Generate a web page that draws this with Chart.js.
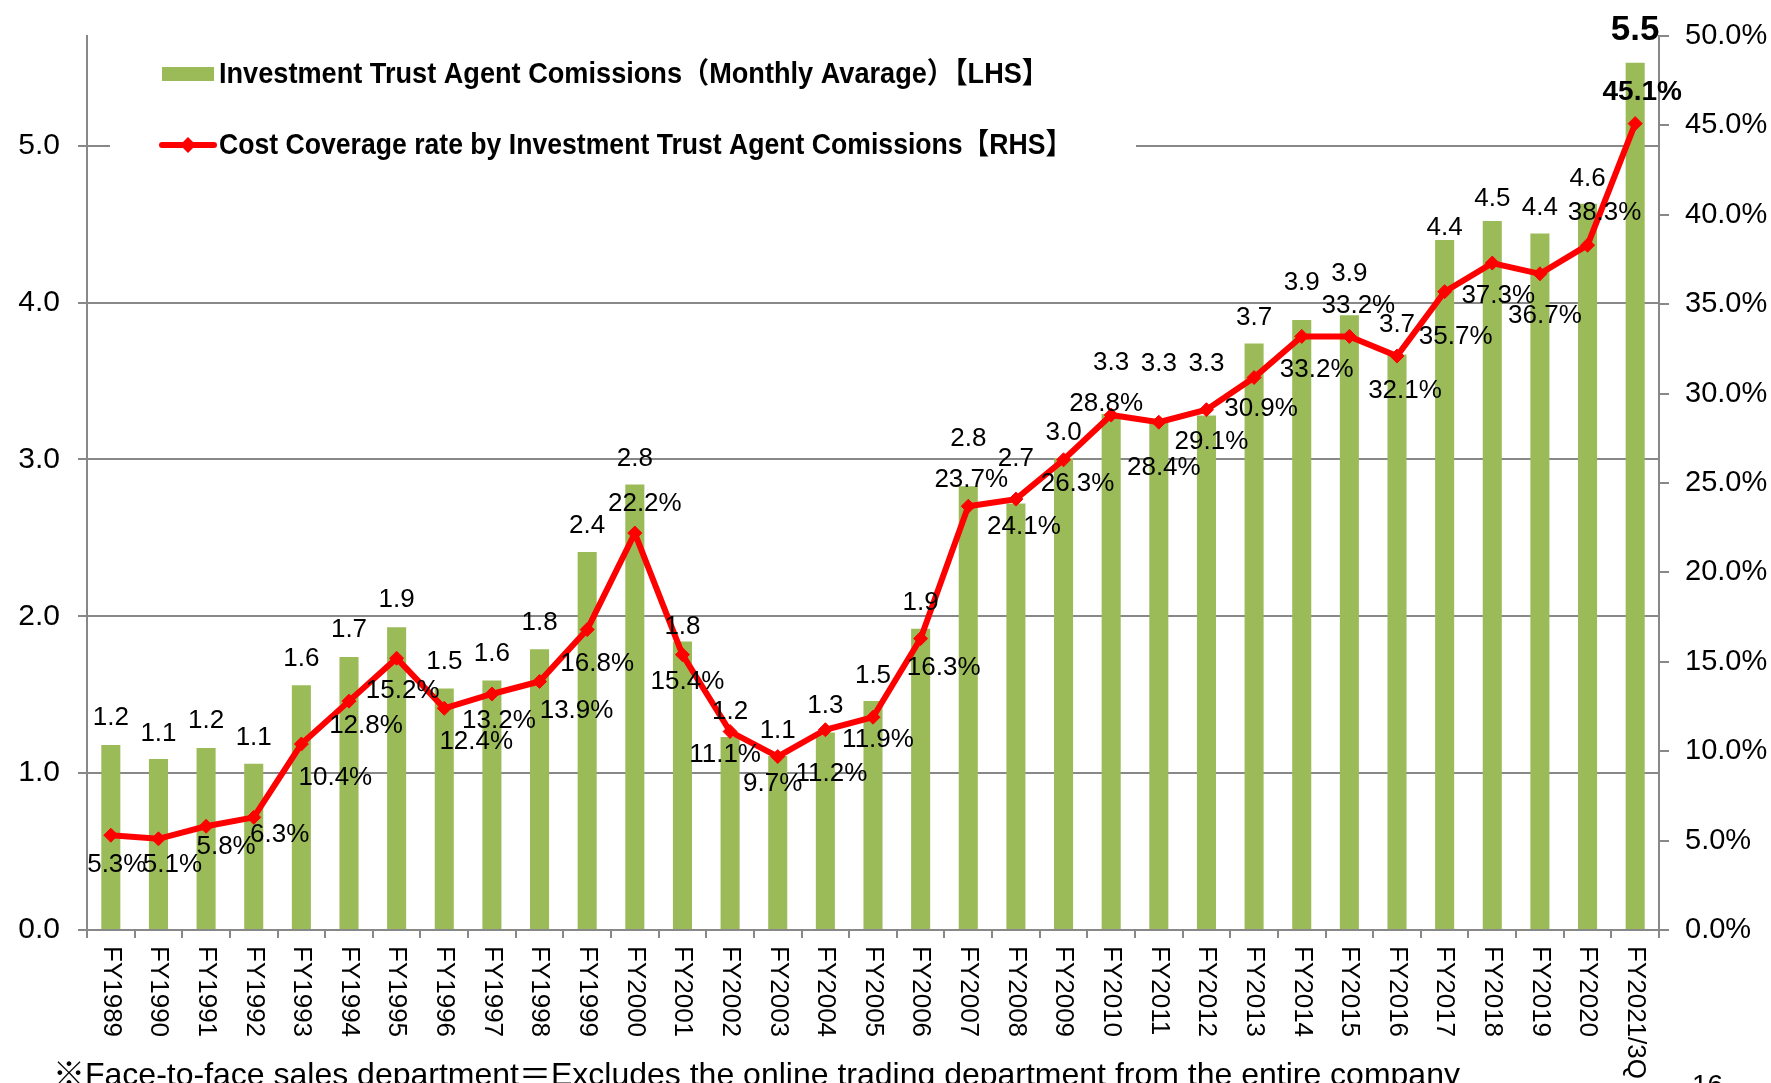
<!DOCTYPE html>
<html>
<head>
<meta charset="utf-8">
<title>Investment Trust Agent Comissions</title>
<script src="https://cdn.jsdelivr.net/npm/chart.js@4.4.0/dist/chart.umd.min.js"></script>
<style>
  html, body { margin: 0; padding: 0; background: #fff; overflow: hidden; }
  #wrap { position: relative; width: 1771px; height: 1083px; }
  #note { position: absolute; left: 53px; top: 1056px; font-size: 32px; line-height: 36px;
          font-family: "Liberation Sans", "Noto Sans CJK JP", sans-serif; white-space: nowrap; color: #000; }
  #page { position: absolute; left: 1692px; top: 1069px; font-size: 28px; line-height: 32px;
          font-family: "Liberation Sans", sans-serif; color: #000; }
</style>
</head>
<body>
<div id="wrap">
  <canvas id="chart" width="1771" height="1083"></canvas>
  <div id="note">※Face-to-face sales department＝Excludes the online trading department from the entire company</div>
  <div id="page">16</div>
</div>
<script>
// chart data
var years = ['FY1989', 'FY1990', 'FY1991', 'FY1992', 'FY1993', 'FY1994', 'FY1995', 'FY1996', 'FY1997',
  'FY1998', 'FY1999', 'FY2000', 'FY2001', 'FY2002', 'FY2003', 'FY2004', 'FY2005', 'FY2006', 'FY2007',
  'FY2008', 'FY2009', 'FY2010', 'FY2011', 'FY2012', 'FY2013', 'FY2014', 'FY2015', 'FY2016', 'FY2017',
  'FY2018', 'FY2019', 'FY2020', 'FY2021/3Q'];
// monthly average commissions (LHS)
var commissions = [1.18, 1.09, 1.16, 1.06, 1.56, 1.74, 1.93, 1.54, 1.59, 1.79, 2.41, 2.84, 1.84,
  1.23, 1.11, 1.26, 1.46, 1.92, 2.83, 2.72, 3.01, 3.29, 3.26, 3.28, 3.74, 3.89, 3.92, 3.67,
  4.40, 4.52, 4.44, 4.63, 5.53];
// cost coverage rate in % (RHS)
var coverage = [5.3, 5.1, 5.8, 6.3, 10.4, 12.8, 15.2, 12.4, 13.2, 13.9, 16.8, 22.2, 15.4, 11.1, 9.7,
  11.2, 11.9, 16.3, 23.7, 24.1, 26.3, 28.8, 28.4, 29.1, 30.9, 33.2, 33.2, 32.1, 35.7, 37.3, 36.7,
  38.3, 45.1];
var leftTicks = [0, 1, 2, 3, 4, 5];
var rightTicks = [0, 5, 10, 15, 20, 25, 30, 35, 40, 45, 50];

var legendBar = 'Investment Trust Agent Comissions（Monthly Avarage）【LHS】';
var legendLine = 'Cost Coverage rate by Investment Trust Agent Comissions【RHS】';

// where each value label sits, in pixels from its bar top / point
var barLabelDy = [-27, -25, -27, -26, -26, -27, -27, -27, -27, -26, -26, -26, -15, -25, -25, -27, -25,
  -26, -47, -45, -25, -51, -55, -52, -26, -37, -41, -30, -12, -22, -26, -25, -32];
var lineLabelShift = [[6, 30], [14, 26], [20, 21], [26, 17], [34, 34], [17, 25], [6, 33], [32, 34],
  [7, 27], [37, 29], [10, 34], [10, -29], [5, 27], [-5, 23], [-5, 27], [6, 44], [5, 23], [23, 29],
  [3, -26], [8, 28], [14, 24], [-5, -11], [5, 46], [5, 32], [7, 31], [15, 33], [9, -31], [8, 35],
  [11, 45], [6, 33], [5, 42], [17, -32], [7, -31]];

var FONT = '"Liberation Sans", "Noto Sans CJK JP", sans-serif';
var GREEN = '#9bbb59';
var RED = '#ff0000';
var GREY = '#888888';

Chart.defaults.font.family = FONT;
Chart.defaults.color = '#000';

// legend, value labels and rotated year labels
var decor = {
  id: 'decor',
  afterDraw: function (chart) {
    var ctx = chart.ctx;
    var bars = chart.getDatasetMeta(0).data;
    var points = chart.getDatasetMeta(1).data;
    var last = years.length - 1;
    ctx.save();

    // legend box sits on top of the 5.0 grid line
    ctx.fillStyle = '#fff';
    ctx.fillRect(110, 40, 1026, 130);
    ctx.fillStyle = GREEN;
    ctx.fillRect(162, 67, 52, 14);
    ctx.strokeStyle = RED;
    ctx.lineWidth = 6;
    ctx.lineCap = 'round';
    ctx.beginPath();
    ctx.moveTo(162, 145);
    ctx.lineTo(214, 145);
    ctx.stroke();
    ctx.fillStyle = RED;
    ctx.beginPath();
    ctx.moveTo(188, 137); ctx.lineTo(196, 145); ctx.lineTo(188, 153); ctx.lineTo(180, 145);
    ctx.closePath();
    ctx.fill();
    ctx.fillStyle = '#000';
    ctx.font = 'bold 29px ' + FONT;
    ctx.textAlign = 'left';
    ctx.textBaseline = 'middle';
    ctx.fillText(legendBar, 219, 75, 830);
    ctx.fillText(legendLine, 219, 146, 853);

    // value labels
    ctx.textAlign = 'center';
    for (var i = 0; i < years.length; i++) {
      var b = bars[i];
      ctx.font = (i === last ? 'bold 35px ' : '26px ') + FONT;
      ctx.fillText(commissions[i].toFixed(1), b.x, b.y + barLabelDy[i]);
    }
    for (var j = 0; j < years.length; j++) {
      var p = points[j];
      ctx.font = (j === last ? 'bold 28px ' : '26px ') + FONT;
      ctx.fillText(coverage[j].toFixed(1) + '%', p.x + lineLabelShift[j][0], p.y + lineLabelShift[j][1]);
    }

    // year labels turned clockwise
    var xs = chart.scales.x;
    ctx.font = '26px ' + FONT;
    ctx.textAlign = 'left';
    for (var k = 0; k < years.length; k++) {
      ctx.save();
      ctx.translate(xs.getPixelForValue(k), 946);
      ctx.rotate(Math.PI / 2);
      ctx.fillText(years[k], 0, 0);
      ctx.restore();
    }
    ctx.restore();
  }
};

var ctx = document.getElementById('chart').getContext('2d');
var chart = new Chart(ctx, {
  data: {
    labels: years,
    datasets: [{
      type: 'bar',
      label: legendBar,
      data: commissions,
      yAxisID: 'yL',
      backgroundColor: GREEN,
      barPercentage: 0.4,
      categoryPercentage: 1,
      order: 2
    }, {
      type: 'line',
      label: legendLine,
      data: coverage,
      yAxisID: 'yR',
      borderColor: RED,
      backgroundColor: RED,
      borderWidth: 6,
      pointStyle: 'rectRot',
      pointRadius: 7,
      pointBorderWidth: 1,
      tension: 0,
      order: 1
    }]
  },
  options: {
    responsive: false,
    animation: false,
    layout: { padding: { top: 33, left: 0, right: 0, bottom: 0 } },
    plugins: { legend: { display: false }, tooltip: { enabled: false } },
    scales: {
      x: {
        grid: { offset: true, drawOnChartArea: false, tickLength: 8, color: GREY, lineWidth: 2 },
        border: { color: GREY, width: 2 },
        ticks: { display: false, autoSkip: false },
        afterFit: function (s) { s.height = 153; }
      },
      yL: {
        position: 'left',
        min: 0,
        max: 5.7,
        grid: { color: GREY, lineWidth: 2, tickLength: 9 },
        border: { color: GREY, width: 2 },
        ticks: {
          padding: 18,
          font: { size: 30 },
          color: '#000',
          callback: function (v) { return v.toFixed(1); }
        },
        afterBuildTicks: function (s) { s.ticks = leftTicks.map(function (v) { return { value: v }; }); },
        afterFit: function (s) { s.width = 87; }
      },
      yR: {
        position: 'right',
        min: 0,
        max: 50,
        grid: { drawOnChartArea: false, color: GREY, lineWidth: 2, tickLength: 10 },
        border: { color: GREY, width: 2 },
        ticks: {
          padding: 16,
          font: { size: 29 },
          color: '#000',
          callback: function (v) { return v.toFixed(1) + '%'; }
        },
        afterBuildTicks: function (s) { s.ticks = rightTicks.map(function (v) { return { value: v }; }); },
        afterFit: function (s) { s.width = 112; }
      }
    }
  },
  plugins: [decor]
});
</script>
</body>
</html>
